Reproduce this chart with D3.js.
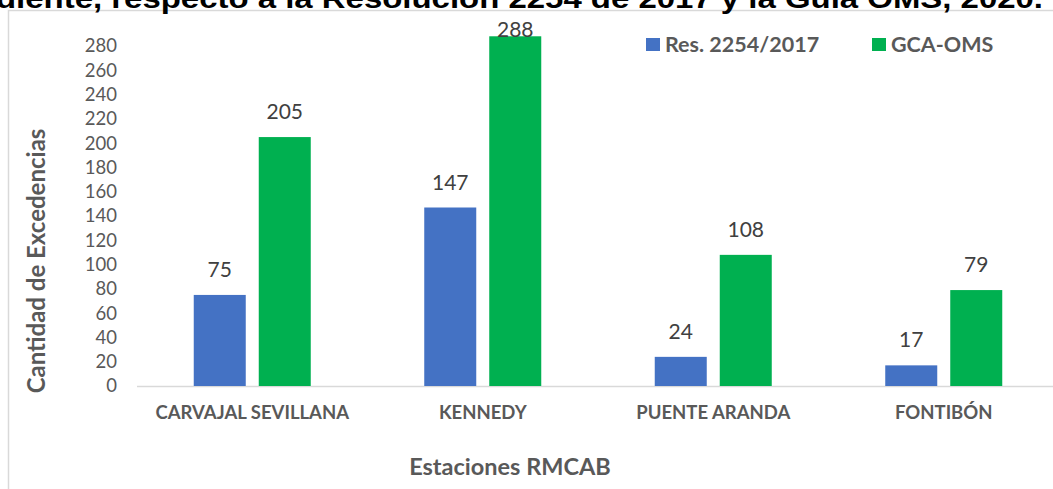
<!DOCTYPE html>
<html>
<head>
<meta charset="utf-8">
<script src="https://cdn.jsdelivr.net/npm/d3@7"></script>
<style>
  html, body { margin: 0; padding: 0; background: #fff; }
  svg { display: block; }
</style>
</head>
<body>
<svg id="chart" width="1053" height="489"></svg>
<script>
// Stations and exceedance counts per standard
const stations = ["CARVAJAL SEVILLANA", "KENNEDY", "PUENTE ARANDA", "FONTIBÓN"];
const seriesNames = ["Res. 2254/2017", "GCA-OMS"];
const resValues = [75, 147, 24, 17];
const omsValues = [205, 288, 108, 79];
const yTicks = [0, 20, 40, 60, 80, 100, 120, 140, 160, 180, 200, 220, 240, 260, 280];
const colors = ["#4472C4", "#00B050"];

const svg = d3.select("#chart");
const W = 1053, H = 489;
const plot = { left: 137, right: 1059, top: 46, bottom: 386 };
const FONT = "Lato, 'Open Sans', sans-serif";

const rows = stations.map((s, i) => ({ station: s, values: [resValues[i], omsValues[i]] }));

const x = d3.scaleBand().domain(stations).range([plot.left, plot.right]).padding(0);
const xs = d3.scaleBand().domain(seriesNames).range([0, x.bandwidth()])
  .paddingInner(0.2).paddingOuter(0.873);
const y = d3.scaleLinear().domain([0, 280]).range([plot.bottom, plot.top]);

// Outer chart frame
svg.append("rect")
  .attr("x", 8.5).attr("y", 10.5)
  .attr("width", W + 20).attr("height", H + 20)
  .attr("fill", "none").attr("stroke", "#d9d9d9").attr("stroke-width", 1.5);

// Title (its first part runs off the top-left of the frame)
svg.append("text")
  .attr("x", -4).attr("y", 8)
  .attr("textLength", 1047).attr("lengthAdjust", "spacingAndGlyphs")
  .attr("font-family", "'Liberation Sans', Arial, sans-serif")
  .attr("font-weight", "bold").attr("font-size", 27).attr("fill", "#000")
  .text("diente, respecto a la Resolución 2254 de 2017 y la Guía OMS, 2020.");

// Y axis tick labels
const yAxis = d3.axisLeft(y).tickValues(yTicks).tickSize(0).tickPadding(0);
const gy = svg.append("g").attr("transform", "translate(117,0)").call(yAxis);
gy.select(".domain").remove();
gy.selectAll("text")
  .attr("font-family", FONT).attr("font-size", 18.5).attr("fill", "#595959");

// Category axis baseline
svg.append("line")
  .attr("x1", plot.left).attr("x2", W)
  .attr("y1", y(0) + 0.5).attr("y2", y(0) + 0.5)
  .attr("stroke", "#d9d9d9").attr("stroke-width", 1.5);

// Bars
const groups = svg.append("g").selectAll("g").data(rows).join("g")
  .attr("transform", d => `translate(${x(d.station)},0)`);

groups.selectAll("rect")
  .data(d => d.values.map((v, k) => ({ v, k })))
  .join("rect")
  .attr("x", d => xs(seriesNames[d.k]))
  .attr("width", xs.bandwidth())
  .attr("y", d => y(d.v))
  .attr("height", d => y(0) - y(d.v))
  .attr("fill", d => colors[d.k]);

// Value labels above the bars, kept inside the plot area
groups.selectAll("text.val")
  .data(d => d.values.map((v, k) => ({ v, k })))
  .join("text")
  .attr("class", "val")
  .attr("x", d => xs(seriesNames[d.k]) + xs.bandwidth() / 2)
  .attr("y", d => Math.max(y(d.v) - 18, 37))
  .attr("text-anchor", "middle")
  .attr("font-family", FONT).attr("font-size", 21).attr("fill", "#404040")
  .text(d => d.v);

// Category labels
const xAxis = d3.axisBottom(x).tickSize(0).tickPadding(0);
const gx = svg.append("g").attr("transform", "translate(0,406)").call(xAxis);
gx.select(".domain").remove();
gx.selectAll("text")
  .attr("font-family", FONT).attr("font-weight", "bold")
  .attr("font-size", 18.5).attr("fill", "#595959");

// Axis titles
svg.append("text")
  .attr("x", 510).attr("y", 475).attr("text-anchor", "middle")
  .attr("font-family", FONT).attr("font-weight", "bold")
  .attr("font-size", 23.5).attr("fill", "#595959")
  .text("Estaciones RMCAB");

svg.append("text")
  .attr("transform", "translate(45,261) rotate(-90)")
  .attr("text-anchor", "middle")
  .attr("font-family", FONT).attr("font-weight", "bold")
  .attr("font-size", 24).attr("fill", "#595959")
  .text("Cantidad de Excedencias");

// Legend
const legendX = [646, 872];
const legend = svg.append("g").selectAll("g").data(seriesNames).join("g")
  .attr("transform", (d, i) => `translate(${legendX[i]},38)`);
legend.append("rect")
  .attr("width", 14).attr("height", 13)
  .attr("fill", (d, i) => colors[i]);
legend.append("text")
  .attr("x", 19).attr("y", 14)
  .attr("font-family", FONT).attr("font-weight", "bold")
  .attr("font-size", 21.5).attr("fill", "#595959")
  .text(d => d);
</script>
</body>
</html>
